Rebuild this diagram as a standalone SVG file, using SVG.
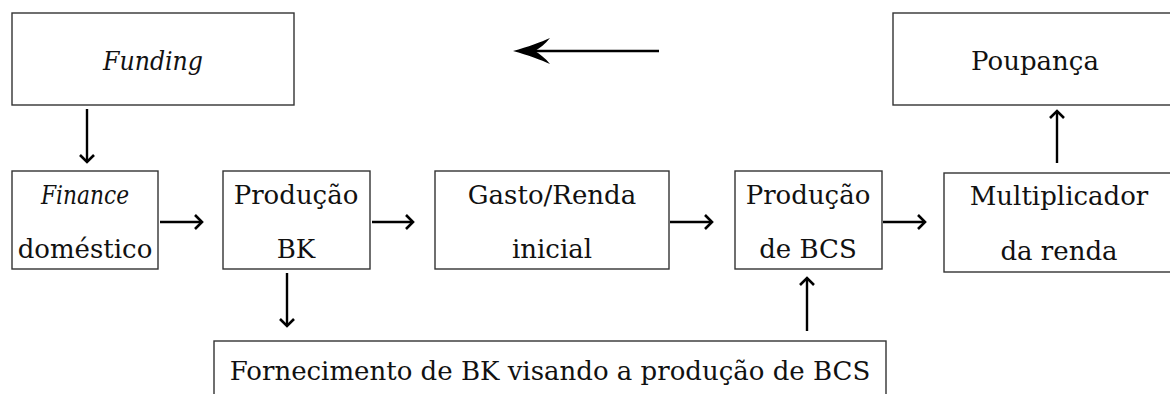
<svg xmlns="http://www.w3.org/2000/svg" width="1170" height="394" viewBox="0 0 1170 394">
<style>
.box{fill:#fff;stroke:#333;stroke-width:1.4}
text{font-family:'DejaVu Serif','Liberation Serif','Noto Serif',serif;font-size:26px;fill:#111;text-anchor:middle}
.i{font-style:italic}
.ln{stroke:#000;stroke-width:2.4;fill:none}
.hd{stroke:#000;stroke-width:2.6;fill:none;stroke-linejoin:miter}
</style>
<rect width="1170" height="394" fill="#fff"/>
<g id="funding"><rect class="box" x="12" y="13" width="282" height="92"/><text class="i" x="153" y="70" font-size="28" textLength="100" lengthAdjust="spacingAndGlyphs">Funding</text></g>
<g id="finance"><rect class="box" x="12" y="171" width="146" height="98"/><text class="i" x="85" y="204" font-size="26" textLength="88" lengthAdjust="spacingAndGlyphs">Finance</text><text x="85" y="258">doméstico</text></g>
<g id="producao-bk"><rect class="box" x="223" y="171" width="147" height="98"/><text x="296" y="204">Produção</text><text x="296" y="258">BK</text></g>
<g id="gasto"><rect class="box" x="435" y="171" width="234" height="98"/><text x="552" y="204">Gasto/Renda</text><text x="552" y="258">inicial</text></g>
<g id="producao-bcs"><rect class="box" x="735" y="171" width="147" height="98"/><text x="808" y="204">Produção</text><text x="808" y="258">de BCS</text></g>
<g id="multiplicador"><rect class="box" x="944" y="173" width="240" height="99"/><text x="1059" y="205">Multiplicador</text><text x="1059" y="260">da renda</text></g>
<g id="poupanca"><rect class="box" x="893" y="13" width="290" height="92"/><text x="1035" y="70">Poupança</text></g>
<g id="fornecimento"><rect class="box" x="214" y="341" width="672" height="70"/><text x="550" y="380">Fornecimento de BK visando a produção de BCS</text></g>
<g id="connectors">
<path class="ln" d="M87,109 V162"/><path class="hd" d="M80,155 L87,162 L94,155"/>
<path class="ln" d="M160,222 H202"/><path class="hd" d="M195,215 L202,222 L195,229"/>
<path class="ln" d="M372,222 H413"/><path class="hd" d="M406,215 L413,222 L406,229"/>
<path class="ln" d="M670,222 H712"/><path class="hd" d="M705,215 L712,222 L705,229"/>
<path class="ln" d="M883,222 H925"/><path class="hd" d="M918,215 L925,222 L918,229"/>
<path class="ln" d="M1057,163 V111"/><path class="hd" d="M1050,118 L1057,111 L1064,118"/>
<path class="ln" d="M287,273 V326"/><path class="hd" d="M280,319 L287,326 L294,319"/>
<path class="ln" d="M807,331 V278"/><path class="hd" d="M800,285 L807,278 L814,285"/>
<path class="ln" d="M659,51 H520" stroke-width="3"/>
<path d="M513,51 C528,47 541,42 550,38 C545,44 540,48 535,51 C540,54 545,58 550,64 C541,60 528,55 513,51 Z" fill="#000"/>
</g>
</svg>
